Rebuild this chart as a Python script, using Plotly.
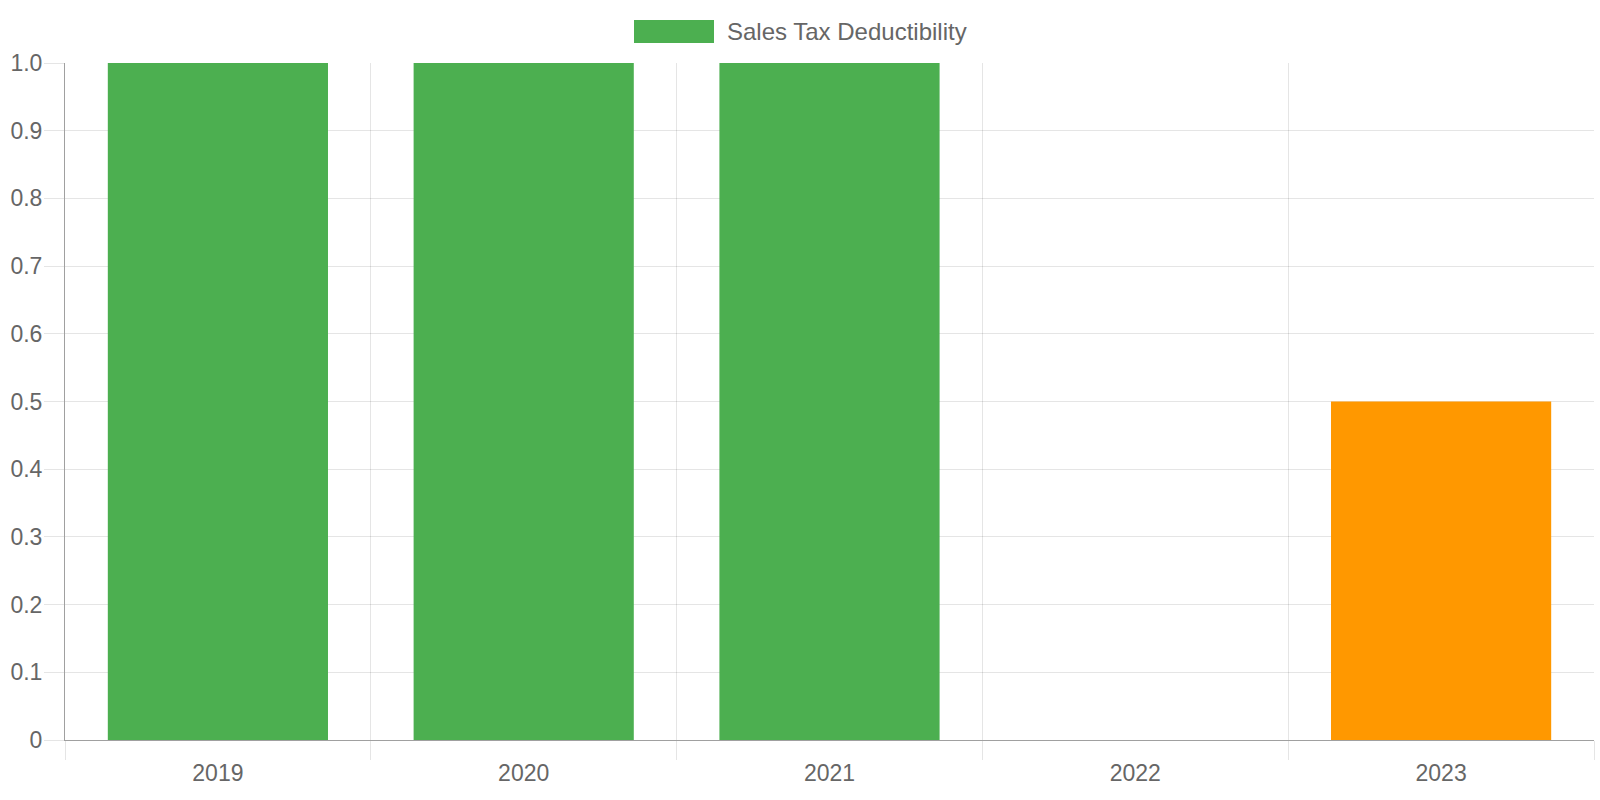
import plotly.graph_objects as go

# chart data
years = ["2019", "2020", "2021", "2022", "2023"]
deductibility = [1.0, 1.0, 1.0, 0.0, 0.5]
bar_colors = ["#4caf50", "#4caf50", "#4caf50", "#4caf50", "#ff9800"]
y_ticks = [0, 0.1, 0.2, 0.3, 0.4, 0.5, 0.6, 0.7, 0.8, 0.9, 1.0]
y_labels = ["0", "0.1", "0.2", "0.3", "0.4", "0.5", "0.6", "0.7", "0.8", "0.9", "1.0"]
series_name = "Sales Tax Deductibility"

GRID = "rgba(0,0,0,0.1)"
AXIS = "#a0a0a0"
TEXT = "#666666"
FONT = "Liberation Sans, Arial, sans-serif"

# plot area in pixels (chart.js layout)
L, R, T, B = 65, 1594, 63, 740
PW, PH = R - L, B - T

fig = go.Figure()
fig.add_trace(
    go.Bar(
        x=years,
        y=deductibility,
        name=series_name,
        marker=dict(color=bar_colors, line=dict(width=0)),
        showlegend=False,
    )
)

fig.update_xaxes(
    type="category",
    range=[-0.5, 4.5],
    tickson="boundaries",
    showgrid=True,
    gridcolor=GRID,
    gridwidth=1,
    ticks="outside",
    ticklen=19,
    tickcolor=GRID,
    ticklabelstandoff=12,
    showline=True,
    linecolor=AXIS,
    linewidth=1,
    tickfont=dict(size=23, color=TEXT, family=FONT),
    zeroline=False,
)
fig.update_yaxes(
    range=[0, 1.0],
    tickvals=y_ticks,
    ticktext=y_labels,
    showgrid=True,
    gridcolor=GRID,
    gridwidth=1,
    ticks="outside",
    ticklen=20,
    tickcolor=GRID,
    ticklabelstandoff=-3,
    showline=True,
    linecolor=AXIS,
    linewidth=1,
    zeroline=False,
    tickfont=dict(size=23, color=TEXT, family=FONT),
)

# chart.js style legend: wide colour box + label, centred on top
fig.add_shape(
    type="rect", xref="paper", yref="paper",
    x0=(634 - L) / PW, x1=(714 - L) / PW,
    y0=(B - 43) / PH, y1=(B - 20) / PH,
    fillcolor="#4caf50", line=dict(width=0),
)
fig.add_annotation(
    text=series_name, xref="paper", yref="paper",
    x=(725 - L) / PW, y=(B - 31.5) / PH,
    xanchor="left", yanchor="middle", showarrow=False,
    font=dict(size=24, color=TEXT, family=FONT),
)

fig.update_layout(
    width=1600,
    height=800,
    margin=dict(l=L, r=1600 - R, t=T, b=800 - B),
    bargap=0.28,
    plot_bgcolor="white",
    paper_bgcolor="white",
    font=dict(family=FONT, color=TEXT),
)

# drop the default page margin so the 1600x800 figure fits the window exactly
fig.write_html(
    "out.html",
    config={"displayModeBar": False},
    post_script="document.body.style.margin='0';document.body.style.overflow='hidden';",
)
